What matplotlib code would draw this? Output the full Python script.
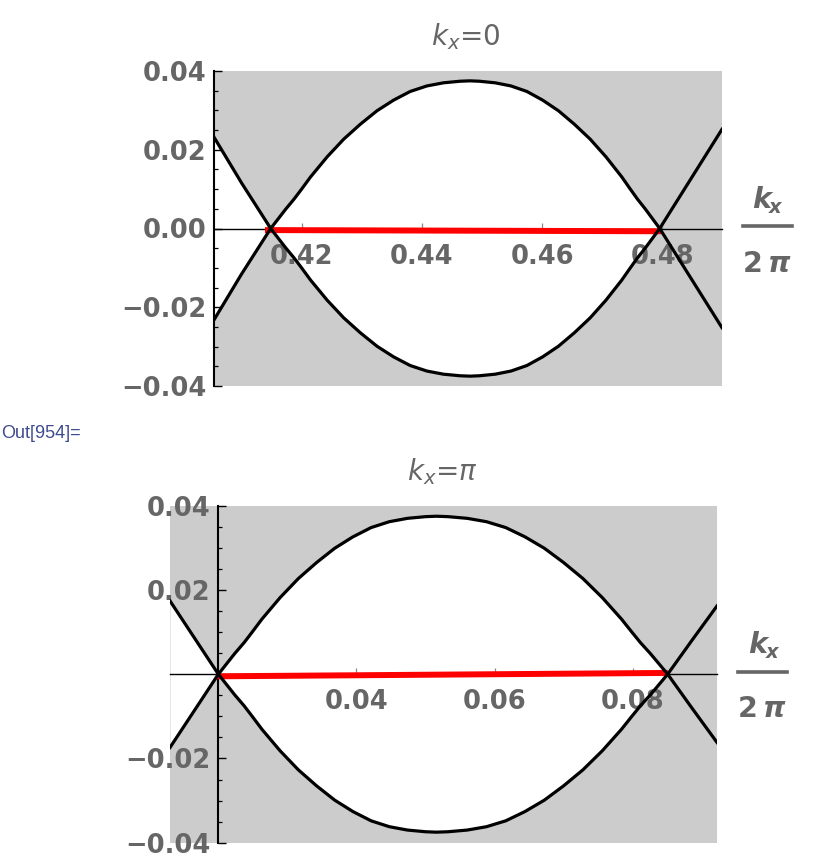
import numpy as np
import matplotlib.pyplot as plt
from matplotlib.ticker import MultipleLocator
from matplotlib.lines import Line2D

plt.rcParams['font.family'] = 'DejaVu Sans'
plt.rcParams['mathtext.fontset'] = 'dejavusans'

# --- data ---
# k_x = 0 panel: band that is upper inside the lens (b) and its partner (a)
k_top = [0.40543, 0.4100, 0.41486, 0.41735, 0.41876, 0.4200, 0.42149, 0.42425, 0.42701,
         0.42978, 0.43254, 0.4353, 0.43806, 0.44083, 0.44359, 0.44635, 0.4480, 0.44957,
         0.4522, 0.45483, 0.45747, 0.46009, 0.46272, 0.46535, 0.46799, 0.47062, 0.47325,
         0.47467, 0.47584, 0.47719, 0.47956, 0.4847, 0.48992]
e_top_b = [-0.0232, -0.0116, 0.0, 0.0049, 0.0075, 0.0100, 0.0131, 0.0182, 0.0227,
           0.0265, 0.0299, 0.0326, 0.0348, 0.0362, 0.0370, 0.0374, 0.0375, 0.0374,
           0.0370, 0.0362, 0.0348, 0.0326, 0.0299, 0.0265, 0.0227, 0.0182, 0.0131,
           0.0100, 0.0075, 0.0049, 0.0, -0.0125, -0.0252]
e_top_a = [0.0232, 0.0116, 0.0, -0.0049, -0.0075, -0.0100, -0.0131, -0.0182, -0.0227,
           -0.0265, -0.0299, -0.0326, -0.0348, -0.0362, -0.0370, -0.0374, -0.0375, -0.0374,
           -0.0370, -0.0362, -0.0348, -0.0326, -0.0299, -0.0265, -0.0227, -0.0182, -0.0131,
           -0.0100, -0.0075, -0.0049, 0.0, 0.0125, 0.0252]
cross_top = 0.47956
red_top_k = [0.41391, 0.47977]
red_top_e = [-0.0004, -0.0007]

# k_x = pi panel
k_bot = [0.0130, 0.0165, 0.0200, 0.02237, 0.02373, 0.0249, 0.02632, 0.02895, 0.03158,
         0.03422, 0.03685, 0.03948, 0.04211, 0.04475, 0.04738, 0.05001, 0.05158, 0.05325,
         0.05604, 0.05883, 0.06162, 0.0644, 0.0672, 0.06999, 0.07279, 0.07558, 0.07836,
         0.07987, 0.08111, 0.08255, 0.08506, 0.0886, 0.0922]
e_bot_b = [-0.0174, -0.0087, 0.0, 0.0049, 0.0075, 0.0100, 0.0131, 0.0182, 0.0227,
           0.0265, 0.0299, 0.0326, 0.0348, 0.0362, 0.0370, 0.0374, 0.0375, 0.0374,
           0.0370, 0.0362, 0.0348, 0.0326, 0.0299, 0.0265, 0.0227, 0.0182, 0.0131,
           0.0100, 0.0075, 0.0049, 0.0, -0.0081, -0.0162]
e_bot_a = [0.0174, 0.0087, 0.0, -0.0049, -0.0075, -0.0100, -0.0131, -0.0182, -0.0227,
           -0.0265, -0.0299, -0.0326, -0.0348, -0.0362, -0.0370, -0.0374, -0.0375, -0.0374,
           -0.0370, -0.0362, -0.0348, -0.0326, -0.0299, -0.0265, -0.0227, -0.0182, -0.0131,
           -0.0100, -0.0075, -0.0049, 0.0, 0.0081, 0.0162]
cross_bot = 0.08506
red_bot_k = [0.01969, 0.08506]
red_bot_e = [-0.0005, 0.0003]

xt_top = [0.42, 0.44, 0.46, 0.48]
xl_top = ['0.42', '0.44', '0.46', '0.48']
yt_top = [-0.04, -0.02, 0.0, 0.02, 0.04]
yl_top = ['\u22120.04', '\u22120.02', '0.00', '0.02', '0.04']
xt_bot = [0.04, 0.06, 0.08]
xl_bot = ['0.04', '0.06', '0.08']
yt_bot = [-0.04, -0.02, 0.02, 0.04]
yl_bot = ['\u22120.04', '\u22120.02', '0.02', '0.04']

GRAY = '#666666'
W, H = 830, 865
fig = plt.figure(figsize=(8.3, 8.65), dpi=100)


def fx(x):
    return x / W


def fy(y):
    return 1 - y / H


def panel(ax, k, eb, ea, k_cross, rk, re, xlim, yaxis_at, xt, xl, yt, yl):
    k = np.array(k)
    ax.set_facecolor('#cccccc')
    ax.fill_between(k, ea, eb, where=k <= k_cross, color='white', lw=0, zorder=1)
    ax.plot(rk, re, color='#ff0000', lw=4.3, solid_capstyle='butt', zorder=3)
    ax.plot(k, eb, color='black', lw=2.3, zorder=4)
    ax.plot(k, ea, color='black', lw=2.3, zorder=4)
    ax.set_xlim(xlim)
    ax.set_ylim(-0.04, 0.04)
    ax.spines['top'].set_visible(False)
    ax.spines['right'].set_visible(False)
    ax.spines['bottom'].set_position(('data', 0))
    ax.spines['bottom'].set_linewidth(1.0)
    ax.spines['left'].set_position(('data', yaxis_at))
    ax.spines['left'].set_linewidth(1.5)
    ax.set_xticks(xt, xl, fontsize=18.5, fontweight='bold', color=GRAY)
    ax.set_yticks(yt, yl, fontsize=18.5, fontweight='bold', color=GRAY)
    ax.yaxis.set_minor_locator(MultipleLocator(0.005))
    ax.tick_params(axis='x', which='major', direction='in', length=4.5, width=0.9,
                   color='#888888', pad=11)
    ax.tick_params(axis='y', which='major', direction='in', length=5.5, width=1.0,
                   color='black', pad=5.5)
    ax.tick_params(axis='y', which='minor', direction='in', length=3, width=0.9,
                   color='black')


ax1 = fig.add_axes([fx(214), fy(386), 508 / W, 315 / H])
panel(ax1, k_top, e_top_b, e_top_a, cross_top, red_top_k, red_top_e,
      (0.40543, 0.48992), 0.40543, xt_top, xl_top, yt_top, yl_top)

ax2 = fig.add_axes([fx(170), fy(842.7), 547 / W, 337 / H])
panel(ax2, k_bot, e_bot_b, e_bot_a, cross_bot, red_bot_k, red_bot_e,
      (0.0130, 0.0922), 0.02, xt_bot, xl_bot, yt_bot, yl_bot)

# titles
fig.text(fx(466), fy(45), r'$k_x$=0', fontsize=20, color=GRAY, ha='center', va='baseline')
fig.text(fx(442), fy(480), r'$k_x$=$\pi$', fontsize=20, color=GRAY, ha='center', va='baseline')


# k_x / 2 pi axis labels at the right
def frac(x_k, base_k, x_bar0, x_bar1, y_bar, x_2, base_2):
    fig.text(fx(x_k), fy(base_k), 'k', fontsize=20.5, fontweight='bold', style='italic',
             color=GRAY, va='baseline')
    fig.text(fx(x_k + 17.5), fy(base_k + 5), 'x', fontsize=14, fontweight='bold',
             style='italic', color=GRAY, va='baseline')
    fig.add_artist(Line2D([fx(x_bar0), fx(x_bar1)], [fy(y_bar), fy(y_bar)], lw=2.6,
                          color=GRAY, transform=fig.transFigure))
    fig.text(fx(x_2), fy(base_2), '2', fontsize=20.5, fontweight='bold', color=GRAY,
             va='baseline')
    fig.text(fx(x_2 + 25), fy(base_2), '\u03c0', fontsize=20.5, fontweight='bold',
             style='italic', color=GRAY, va='baseline')


frac(751.7, 208.3, 742.7, 792.3, 226, 743, 271.7)
frac(748, 653.3, 738.3, 787.3, 671.7, 738, 716.7)

fig.text(fx(1), fy(438), 'Out[954]=', fontsize=13, color='#3f4b8f',
         family='Liberation Sans', va='baseline')

fig.savefig('out.png', dpi=100)
